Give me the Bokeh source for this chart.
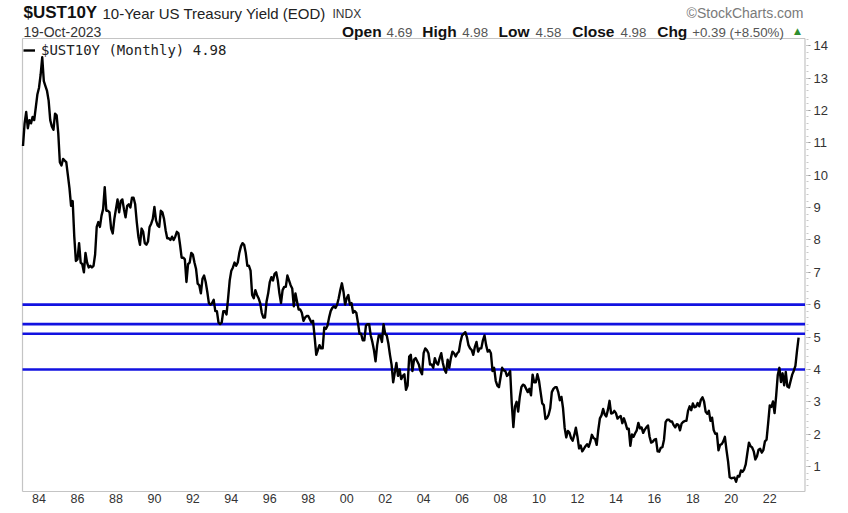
from bokeh.plotting import figure
from bokeh.models import FixedTicker, Label, Legend, LegendItem, Range1d, ColumnDataSource
from bokeh.embed import file_html
from bokeh.resources import INLINE

# ---------------- data ----------------
symbol = "$UST10Y"
description = "10-Year US Treasury Yield (EOD)"
exchange = "INDX"
as_of = "19-Oct-2023"
credit = "\u00a9StockCharts.com"
legend_label = "$UST10Y (Monthly) 4.98"
stat_names = ["Open", "High", "Low", "Close", "Chg"]
stat_values = ["4.69", "4.98", "4.58", "4.98", "+0.39 (+8.50%)"]

start_year = 1983
start_month = 6  # first monthly close shown

yields_1980s = [
    10.90, 11.60, 11.95, 11.45, 11.70, 11.60, 11.80,
    11.70, 12.10, 12.50, 12.70, 13.10, 13.64, 12.90, 12.75, 12.60, 12.30, 11.70, 11.50,
    11.40, 11.90, 11.85, 11.30, 10.40, 10.30, 10.50, 10.45, 10.40, 10.00, 9.60, 9.05,
    9.20, 8.10, 7.35, 7.40, 7.90, 7.30, 7.25, 7.00, 7.60, 7.30, 7.15, 7.20,
    7.15, 7.20, 7.55, 8.40, 8.55, 8.40, 8.75, 8.95, 9.63, 8.90, 8.90, 8.85,
    8.35, 8.20, 8.65, 8.95, 9.25, 8.85, 9.20, 9.25, 8.95, 8.70, 9.05, 9.10,
    9.00, 9.30, 9.30, 9.10, 8.55, 8.10, 7.85, 8.35, 8.25, 7.90, 7.85, 7.95,
]
yields_1990s = [
    8.40, 8.50, 8.65, 9.02, 8.60, 8.45, 8.40, 8.90, 8.85, 8.65, 8.30, 8.05,
    8.05, 8.00, 8.10, 8.00, 8.10, 8.25, 8.20, 7.85, 7.45, 7.45, 7.40, 6.70,
    7.25, 7.30, 7.60, 7.55, 7.30, 7.10, 6.65, 6.60, 6.35, 6.80, 6.90, 6.70,
    6.40, 6.05, 6.00, 6.05, 6.15, 5.80, 5.80, 5.45, 5.40, 5.45, 5.80, 5.80,
    5.70, 6.20, 6.75, 7.05, 7.15, 7.30, 7.20, 7.30, 7.60, 7.80, 7.90, 7.85,
    7.60, 7.20, 7.20, 7.05, 6.30, 6.20, 6.45, 6.30, 6.20, 6.05, 5.75, 5.60,
    5.60, 6.10, 6.35, 6.70, 6.85, 6.75, 6.95, 7.00, 6.75, 6.35, 6.05, 6.45,
    6.55, 6.55, 6.90, 6.75, 6.60, 6.50, 5.95, 6.35, 6.10, 5.85, 5.85, 5.75,
    5.50, 5.60, 5.65, 5.65, 5.55, 5.45, 5.50, 5.00, 4.45, 4.60, 4.75, 4.65,
    4.65, 5.30, 5.25, 5.35, 5.60, 5.80, 5.90, 5.95, 5.90, 6.00, 6.20, 6.45,
]
yields_2000s = [
    6.66, 6.40, 6.00, 6.20, 6.30, 6.00, 6.05, 5.75, 5.80, 5.75, 5.45, 5.10,
    5.10, 4.90, 4.90, 5.35, 5.40, 5.40, 5.05, 4.85, 4.60, 4.25, 4.75, 5.05,
    5.05, 4.85, 5.40, 5.10, 5.05, 4.80, 4.45, 4.15, 3.60, 3.90, 4.20, 3.80,
    4.00, 3.70, 3.80, 3.85, 3.37, 3.50, 4.40, 4.45, 3.95, 4.30, 4.35, 4.25,
    4.15, 3.95, 3.85, 4.50, 4.65, 4.60, 4.50, 4.15, 4.15, 4.05, 4.35, 4.20,
    4.15, 4.35, 4.50, 4.20, 4.00, 3.90, 4.30, 4.05, 4.35, 4.55, 4.50, 4.40,
    4.50, 4.55, 4.85, 5.05, 5.10, 5.15, 5.00, 4.75, 4.65, 4.60, 4.45, 4.70,
    4.85, 4.55, 4.65, 4.65, 4.90, 5.05, 4.75, 4.55, 4.60, 4.50, 3.95, 4.05,
    3.65, 3.50, 3.45, 3.75, 4.05, 3.97, 3.95, 3.80, 3.85, 3.95, 2.95, 2.22,
    2.85, 3.00, 2.70, 3.15, 3.45, 3.53, 3.50, 3.40, 3.30, 3.40, 3.20, 3.84,
]
yields_2010s = [
    3.60, 3.60, 3.85, 3.65, 3.30, 2.95, 2.90, 2.47, 2.50, 2.60, 2.80, 3.30,
    3.40, 3.45, 3.45, 3.30, 3.05, 3.15, 2.80, 2.20, 1.90, 2.10, 2.05, 1.88,
    1.80, 1.97, 2.20, 1.92, 1.56, 1.65, 1.47, 1.55, 1.63, 1.69, 1.61, 1.76,
    1.98, 1.88, 1.85, 1.67, 2.13, 2.49, 2.58, 2.78, 2.61, 2.55, 2.75, 3.03,
    2.64, 2.65, 2.72, 2.65, 2.48, 2.53, 2.56, 2.34, 2.49, 2.34, 2.16, 2.17,
    1.64, 1.99, 1.92, 2.03, 2.12, 2.35, 2.18, 2.21, 2.04, 2.14, 2.21, 2.27,
    1.92, 1.74, 1.77, 1.83, 1.85, 1.47, 1.46, 1.58, 1.60, 1.83, 2.37, 2.45,
    2.45, 2.39, 2.39, 2.28, 2.21, 2.31, 2.29, 2.12, 2.33, 2.38, 2.41, 2.41,
    2.72, 2.86, 2.74, 2.95, 2.83, 2.85, 2.96, 2.86, 3.06, 3.14, 3.01, 2.69,
    2.63, 2.72, 2.41, 2.51, 2.13, 2.01, 2.02, 1.50, 1.67, 1.69, 1.78, 1.92,
]
yields_2020s = [
    1.51, 1.15, 0.67, 0.64, 0.65, 0.66, 0.53, 0.71, 0.69, 0.88, 0.84, 0.91,
    1.07, 1.41, 1.74, 1.63, 1.59, 1.47, 1.22, 1.31, 1.52, 1.55, 1.43, 1.51,
    1.78, 1.83, 2.34, 2.89, 2.84, 3.01, 2.65, 3.19, 3.83, 4.05, 3.61, 3.88,
    3.51, 3.92, 3.47, 3.44, 3.64, 3.84, 3.96, 4.11, 4.57, 4.98,
]

resistance_levels = [6.0, 5.4, 5.1, 4.0]

x_tick_years = [1984, 1986, 1988, 1990, 1992, 1994, 1996, 1998, 2000, 2002,
                2004, 2006, 2008, 2010, 2012, 2014, 2016, 2018, 2020, 2022]
x_tick_labels = ["84", "86", "88", "90", "92", "94", "96", "98", "00", "02",
                 "04", "06", "08", "10", "12", "14", "16", "18", "20", "22"]
y_ticks = [1, 2, 3, 4, 5, 6, 7, 8, 9, 10, 11, 12, 13, 14]

# ---------------- layout constants (pixels / scale) ----------------
W, H = 846, 511
FRAME_L, FRAME_R, FRAME_B = 20, 806, 493        # canvas px; frame top = 0
PX_PER_YEAR = 19.23
PX_PER_UNIT = 32.38
PANEL_BOTTOM_VAL, PANEL_TOP_VAL = 0.23, 14.22    # value range of the boxed chart panel

x_start = 1983.4167 - 2.5 / PX_PER_YEAR
x_end = x_start + (FRAME_R - FRAME_L) / PX_PER_YEAR
y_start = PANEL_BOTTOM_VAL - 2.0 / PX_PER_UNIT
y_end = y_start + FRAME_B / PX_PER_UNIT
box_l = x_start + 2.0 / PX_PER_YEAR
box_r = x_start + 784.5 / PX_PER_YEAR
LABEL_SHIFT = 0.25  # year labels sit a little right of the year start

# ---------------- build ----------------
yields = yields_1980s + yields_1990s + yields_2000s + yields_2010s + yields_2020s
t = [start_year + (start_month - 1 + i) / 12.0 for i in range(len(yields))]
src = ColumnDataSource(dict(t=t, y=yields))

p = figure(width=W, height=H, output_backend="svg", toolbar_location=None,
           x_range=Range1d(x_start, x_end), y_range=Range1d(y_start, y_end),
           y_axis_location="right",
           min_border_left=FRAME_L, min_border_right=W - FRAME_R,
           min_border_top=0, min_border_bottom=H - FRAME_B,
           background_fill_color="white", border_fill_color="white",
           outline_line_color=None)
p.grid.visible = False

# panel box
box_col = "#c4c4c4"
p.segment(x0=[box_l, box_l, box_l, box_r], x1=[box_r, box_r, box_l, box_r],
          y0=[PANEL_TOP_VAL, PANEL_BOTTOM_VAL, PANEL_BOTTOM_VAL, PANEL_BOTTOM_VAL],
          y1=[PANEL_TOP_VAL, PANEL_BOTTOM_VAL, PANEL_TOP_VAL, PANEL_TOP_VAL],
          line_color=box_col, line_width=1.2)

p.segment(x0=box_l, x1=box_r, y0=resistance_levels, y1=resistance_levels,
          line_color="#1212e0", line_width=2.6)
r = p.line("t", "y", source=src, line_color="black", line_width=2.4, line_join="round")

# x axis
xax = p.xaxis[0]
tick_pos = [yr + LABEL_SHIFT for yr in x_tick_years]
xax.ticker = FixedTicker(ticks=tick_pos, minor_ticks=[])
xax.major_label_overrides = {tp: lab for tp, lab in zip(tick_pos, x_tick_labels)}
xax.axis_line_color = None
xax.major_tick_line_color = None
xax.minor_tick_line_color = None
xax.major_tick_out = 0
xax.major_label_standoff = 0
xax.major_label_text_font = "Liberation Sans Narrow, Liberation Sans"
xax.major_label_text_font_size = "12.5px"
xax.major_label_text_color = "#333333"

# y axis (right)
yax = p.yaxis[0]
yax.ticker = FixedTicker(ticks=y_ticks, minor_ticks=[v / 5.0 for v in range(2, 72)])
yax.axis_line_color = None
yax.major_tick_out = 4
yax.major_tick_in = 0
yax.minor_tick_out = 2
yax.minor_tick_in = 0
yax.major_tick_line_color = "#999999"
yax.minor_tick_line_color = "#c8c8c8"
yax.major_label_standoff = 3
yax.major_label_text_font = "Liberation Sans"
yax.major_label_text_font_size = "13px"
yax.major_label_text_color = "#333333"

legend = Legend(items=[LegendItem(label=legend_label, renderers=[r])],
                location=(0, FRAME_B - 61), margin=0, padding=3, spacing=0,
                glyph_width=12, glyph_height=14, label_height=14, label_standoff=6,
                label_text_font="DejaVu Sans Mono", label_text_font_size="14px",
                label_text_color="#222222",
                border_line_alpha=0, background_fill_alpha=0)
p.add_layout(legend)

def lab(x, y, text, size, bold=False, color="#111111", align="left", font="Liberation Sans"):
    p.add_layout(Label(x=x, y=y, x_units="canvas", y_units="canvas", text=text,
                       text_font=font, text_font_size=size,
                       text_font_style="bold" if bold else "normal",
                       text_color=color, text_align=align, text_baseline="middle"))

lab(23, 12, symbol, "17px", bold=True, color="#111111")
lab(102, 12.5, description, "15px", color="#222222")
lab(332, 13, exchange, "12px", color="#333333")
lab(803, 12.5, credit, "14px", color="#7a7a7a", align="right")
lab(23, 31, as_of, "14px", color="#333333")

name_x = [341.5, 421.7, 498, 571.7, 656.7]
value_x = [386, 461.7, 535, 620, 691.7]
for nm, vx, nx, vv in zip(stat_names, value_x, name_x, stat_values):
    lab(nx, 31, nm, "15.5px", bold=True, color="#111111")
    lab(vx, 31.5, vv, "13.3px", color="#555555")
lab(797, 30, "\u25b2", "9px", color="#2f8f2f", align="center", font="DejaVu Sans")

open("out.html", "w").write(file_html(p, INLINE))
